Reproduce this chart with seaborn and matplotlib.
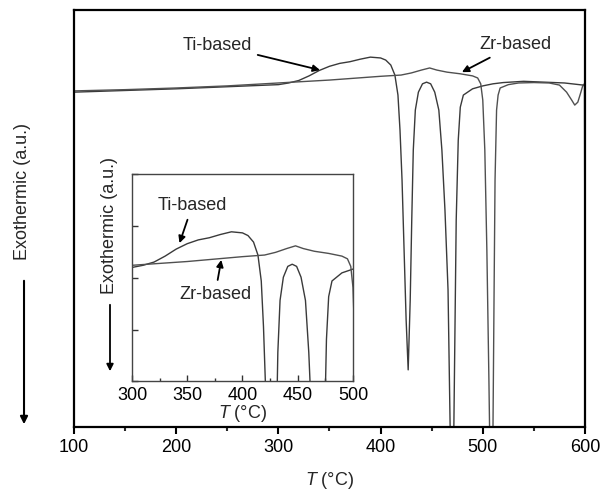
import matplotlib
matplotlib.use('Agg')
import matplotlib.pyplot as plt
from matplotlib.ticker import MultipleLocator
import seaborn as sns
import numpy as np
import pandas as pd

# DSC traces (temperature in degC, signal in a.u., exothermic up)
ti_temp = [100, 150, 200, 250, 300, 310, 320, 330, 340, 350, 360, 370, 380, 390,
           400, 405, 410, 414, 417, 419, 421, 423, 425, 427, 429, 430.5, 432, 434,
           437, 441, 445, 449, 453, 457, 460, 463, 466, 469, 471, 474, 476, 478,
           481, 490, 500, 510, 520, 540, 560, 580, 598, 600]
ti_signal = [80.3, 80.7, 81.1, 81.6, 82.1, 82.5, 83.1, 84.2, 85.5, 86.5, 87.2, 87.6, 88.2, 88.7,
             88.5, 88.0, 86.8, 84.4, 79.6, 71.2, 59.2, 42.4, 25.7, 13.7, 30.5, 49.6, 66.4, 76.0,
             80.3, 82.3, 82.7, 82.3, 80.3, 76.0, 66.4, 52.0, 32.9, -15.0, -15.0, 49.6, 68.8, 76.7,
             79.6, 81.1, 81.8, 82.3, 82.6, 82.9, 82.7, 82.5, 82.0, 81.8]

zr_temp = [100, 150, 200, 250, 300, 350, 400, 420, 430, 440, 448, 455, 465, 478,
           490, 495, 498, 500, 502, 504, 506, 507.5, 509.5, 511, 512, 513.5, 515, 517,
           525, 535, 550, 565, 575, 582, 587, 590, 593, 596, 598, 599.5, 600]
zr_signal = [80.6, 80.9, 81.3, 81.8, 82.5, 83.2, 84.1, 84.4, 84.9, 85.6, 86.1, 85.6, 85.1, 84.7,
             84.2, 83.7, 82.3, 78.4, 66.4, 42.4, 11.3, -15.0, -15.0, 30.5, 59.2, 76.0, 79.6, 81.3,
             82.1, 82.5, 82.6, 82.5, 82.0, 80.3, 78.4, 77.2, 77.9, 80.3, 82.0, 82.3, 30.5]

main_ticks = [100, 200, 300, 400, 500, 600]
inset_ticks = [300, 350, 400, 450, 500]

sns.set_style('ticks')
plt.rcParams['font.family'] = ['Liberation Sans', 'DejaVu Sans']
plt.rcParams['mathtext.fontset'] = 'custom'
plt.rcParams['mathtext.rm'] = 'Liberation Sans'
plt.rcParams['mathtext.it'] = 'Liberation Sans:italic'

FS = 13
ti = pd.DataFrame({'T': ti_temp, 'signal': ti_signal})
zr = pd.DataFrame({'T': zr_temp, 'signal': zr_signal})

fig = plt.figure(figsize=(6.11, 4.93), dpi=100)
ax = fig.add_axes([0.1211, 0.1339, 0.8363, 0.8458])

for data, col in [(ti, '#3a3a3a'), (zr, '#505050')]:
    sns.lineplot(data=data, x='T', y='signal', ax=ax, color=col, lw=1.0,
                 estimator=None, sort=False)

ax.set_xlim(100, 600)
ax.set_ylim(0, 100)
ax.set_xticks(main_ticks)
ax.xaxis.set_minor_locator(MultipleLocator(50))
ax.set_yticks([])
ax.tick_params(axis='x', which='major', direction='out', length=5, width=1.5,
               labelsize=FS, pad=4, colors='black')
ax.tick_params(axis='x', which='minor', direction='out', length=3, width=1.5)
for s in ax.spines.values():
    s.set_visible(True)
    s.set_linewidth(1.6)
    s.set_color('black')
ax.set_xlabel('$T$ (°C)', fontsize=FS, labelpad=10)
ax.set_ylabel('')

arrow_kw = dict(arrowstyle='-|>', color='black', lw=1.3, mutation_scale=10,
                shrinkA=2, shrinkB=0)
ax.annotate('Ti-based', xy=(340.7, 85.6), xytext=(240, 91.6), fontsize=FS,
            ha='center', va='center', arrowprops=arrow_kw)
ax.annotate('Zr-based', xy=(479.6, 85.1), xytext=(531.5, 91.7), fontsize=FS,
            ha='center', va='center', arrowprops=arrow_kw)

# main y label with downward arrow
fig.text(0.0376, 1 - 191.5 / 493, 'Exothermic (a.u.)', rotation=90, fontsize=FS,
         ha='center', va='center')
fig.add_artist(matplotlib.patches.FancyArrowPatch(
    (0.0393, 1 - 278 / 493), (0.0393, 1 - 427 / 493), transform=fig.transFigure,
    arrowstyle='-|>', mutation_scale=11, color='black', lw=1.5))

# inset
axi = fig.add_axes([0.216, 0.2262, 0.3617, 0.4209])
axi.set_facecolor('white')
for data, col in [(ti, '#3a3a3a'), (zr, '#505050')]:
    sns.lineplot(data=data, x='T', y='signal', ax=axi, color=col, lw=1.0,
                 estimator=None, sort=False)
axi.set_xlim(300, 500)
axi.set_ylim(61, 99.4)
axi.set_xticks(inset_ticks)
axi.xaxis.set_minor_locator(MultipleLocator(25))
axi.set_yticks(np.linspace(61, 99.4, 5))
axi.set_yticklabels([])
axi.tick_params(which='both', direction='in', width=1.0, colors='#333333',
                labelcolor='black', labelsize=FS, pad=4)
axi.tick_params(which='major', length=4)
axi.tick_params(which='minor', length=2.5)
for s in axi.spines.values():
    s.set_visible(True)
    s.set_linewidth(1.0)
    s.set_color('#444444')
axi.set_xlabel('$T$ (°C)', fontsize=FS, labelpad=-1)
axi.set_ylabel('')

axi.annotate('Ti-based', xy=(343, 86.6), xytext=(354.7, 93.6), fontsize=FS,
             ha='center', va='center', arrowprops=arrow_kw)
axi.annotate('Zr-based', xy=(380.8, 83.5), xytext=(375.2, 77.1), fontsize=FS,
             ha='center', va='center', arrowprops=arrow_kw)

fig.text(110 / 611, 1 - 225.5 / 493, 'Exothermic (a.u.)', rotation=90, fontsize=FS,
         ha='center', va='center')
fig.add_artist(matplotlib.patches.FancyArrowPatch(
    (110 / 611, 1 - 302 / 493), (110 / 611, 1 - 374 / 493), transform=fig.transFigure,
    arrowstyle='-|>', mutation_scale=10, color='black', lw=1.3))

fig.savefig('out.png', dpi=100)
